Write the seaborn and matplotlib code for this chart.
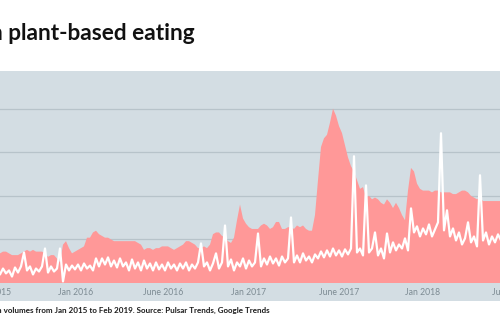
import matplotlib
matplotlib.use("Agg")
import matplotlib.pyplot as plt
from matplotlib.patches import Rectangle
import seaborn as sns
import pandas as pd
import numpy as np

# ---- data (one sample every ~3 px of the original chart) ----
google_trends = [17, 17, 18, 18, 17, 16, 16, 16, 17, 18, 19, 18, 19, 18, 18, 18, 17, 15, 16, 16,
                 14, 12, 22, 24, 20, 17, 18, 19, 20, 21, 26, 26, 29, 30, 28, 27, 26, 26, 25, 24,
                 24, 24, 24, 24, 24, 24, 24, 23, 22, 19, 20, 20, 19, 20, 20, 21, 21, 21, 20, 19,
                 20, 21, 22, 24, 24, 23, 22, 20, 20, 21, 20, 22, 28, 29, 29, 27, 26, 24, 23, 26,
                 36, 45, 37, 34, 32, 31, 31, 31, 33, 34, 33, 31, 32, 35, 35, 31, 31, 32, 32, 31,
                 33, 32, 33, 31, 30, 30, 39, 59, 78, 83, 85, 92, 100, 96, 90, 86, 79, 72, 67, 64,
                 59, 54, 55, 49, 50, 48, 49, 48, 46, 45, 48, 46, 43, 46, 43, 39, 36, 53, 66, 64,
                 57, 54, 53, 53, 53, 52, 53, 53, 52, 52, 52, 52, 51, 51, 52, 53, 53, 52, 50, 49,
                 48, 49, 47, 47, 47, 47, 47, 47, 47]

pulsar_volume = [7.2, 4.9, 8.3, 5.5, 7.2, 3.7, 8.9, 6.0, 9.5, 17.5, 7.2, 9.5, 4.9, 8.3, 6.6, 9.5, 19.8, 6.0, 9.5, 6.6,
                 8.3, 19.8, 0.9, 10.6, 7.2, 10.0, 7.8, 10.6, 7.2, 11.2, 8.3, 10.0, 7.2, 14.1, 9.5, 14.1, 10.6, 14.7, 9.5, 12.9,
                 8.9, 14.1, 9.5, 11.8, 7.2, 13.5, 8.3, 11.8, 7.2, 12.9, 8.3, 11.2, 7.2, 11.8, 7.8, 10.6, 7.2, 11.8, 8.3, 10.6,
                 7.2, 11.2, 8.3, 11.8, 7.2, 10.6, 8.3, 11.8, 22.7, 9.5, 11.8, 7.2, 11.2, 17.0, 8.3, 11.8, 33.0, 9.5, 13.5, 7.2,
                 11.8, 9.5, 14.1, 8.3, 12.9, 9.5, 11.8, 28.4, 9.5, 14.1, 10.6, 15.2, 11.2, 14.1, 10.0, 15.2, 11.8, 14.1, 37.6, 11.8,
                 15.8, 11.8, 17.0, 12.9, 15.2, 11.8, 16.4, 14.1, 18.1, 14.7, 18.7, 15.2, 19.8, 15.8, 18.7, 15.2, 19.3, 16.4, 19.8, 72.7,
                 17.5, 19.8, 15.8, 56.0, 17.5, 19.8, 29.0, 15.8, 19.8, 14.1, 28.4, 17.5, 23.3, 18.7, 22.1, 19.8, 25.6, 18.7, 42.8, 29.0,
                 32.5, 26.7, 31.3, 27.9, 33.6, 26.7, 30.7, 34.8, 85.9, 30.2, 41.7, 26.7, 31.3, 24.4, 29.0, 22.1, 25.6, 34.8, 23.3, 26.7,
                 21.0, 61.8, 24.4, 29.0, 22.1, 26.7, 23.3, 27.9, 24.4]

tick_labels = ["Jan 2015", "Jan 2016", "June 2016", "Jan 2017", "June 2017", "Jan 2018", "June 2018"]
tick_positions = [-1, 26.3, 55.3, 83.7, 114, 142, 171.7]

title_text = "n plant-based eating"
caption_text = "n volumes from Jan 2015 to Feb 2019. Source: Pulsar Trends, Google Trends"

df = pd.DataFrame({"week": np.arange(len(google_trends)),
                   "google": google_trends,
                   "pulsar": pulsar_volume})

# ---- styling ----
sns.set_style("white")
plt.rcParams["font.family"] = ["Lato", "DejaVu Sans"]

BG = "#d3dde3"
GRID = "#b7c3ca"
PINK = "#ff9898"

W, H = 500, 330
fig = plt.figure(figsize=(W / 100, H / 100), dpi=100)
fig.patch.set_facecolor("white")

# grey panel behind axes and tick labels
fig.add_artist(Rectangle((0, (H - 301) / H), 1, (301 - 71) / H,
                         transform=fig.transFigure, facecolor=BG,
                         edgecolor="none", zorder=0))

ax_left_px, ax_right_px = -20, 530
ax = fig.add_axes([ax_left_px / W, (H - 283) / H,
                   (ax_right_px - ax_left_px) / W, (283 - 71) / H])
ax.set_facecolor(BG)
ax.patch.set_zorder(0)

ax.fill_between(df["week"], 0, df["google"], color=PINK, linewidth=0, zorder=2)
sns.lineplot(data=df, x="week", y="pulsar", ax=ax, color="white",
             linewidth=1.6, zorder=3)

px_to_idx = lambda p: (p + 3) / 3
ax.set_xlim(px_to_idx(ax_left_px), px_to_idx(ax_right_px))
ax.set_ylim(0, 121.6)
ax.set_yticks([25, 50, 75, 100])
ax.set_yticklabels([])
ax.yaxis.grid(True, color=GRID, linewidth=0.9)
ax.xaxis.grid(False)
ax.set_axisbelow(True)
ax.set_xticks(tick_positions)
ax.set_xticklabels(tick_labels)
ax.tick_params(axis="x", length=0, pad=3.5, labelsize=6.2, labelcolor="#7d8b93")
ax.tick_params(axis="y", length=0)
ax.set_xlabel("")
ax.set_ylabel("")
for s in ax.spines.values():
    s.set_visible(False)

fig.text(-10 / W, (H - 40) / H, title_text, fontsize=16.3, fontweight="bold",
         color="#111111", ha="left", va="baseline")
fig.text(-3 / W, (H - 312.5) / H, caption_text, fontsize=5.8, fontweight="bold",
         color="#1a1a1a", ha="left", va="baseline")

fig.savefig("out.png", dpi=100, facecolor="white")
